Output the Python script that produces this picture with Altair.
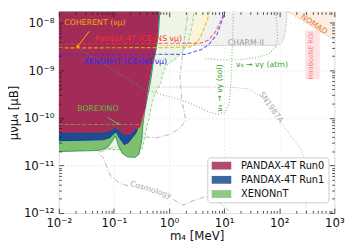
import json
import altair as alt
import pandas as pd

FONT = "DejaVu Sans"

# ---------------- axes ----------------
X_DOMAIN = [1e-2, 1e3]
Y_DOMAIN = [1e-12, 1.70e-8]
x_major = [1e-2, 1e-1, 1e0, 1e1, 1e2, 1e3]
x_tick_labels = ["10⁻²", "10⁻¹", "10⁰", "10¹", "10²", "10³"]
y_major = [1e-12, 1e-11, 1e-10, 1e-9, 1e-8]
y_tick_labels = ["10⁻¹²", "10⁻¹¹", "10⁻¹⁰", "10⁻⁹", "10⁻⁸"]
x_minor = [k * d for d in x_major[:-1] for k in range(2, 10)]
y_minor = [k * d for d in y_major for k in range(2, 10) if k * d < Y_DOMAIN[1]]
REGION_TOP = 1e-7

legend_names = ["PANDAX-4T Run0", "PANDAX-4T Run1", "XENONnT"]
legend_colors = ["#a32b58", "#1b4e8e", "#7fc06c"]

# ---------------- filled limits ----------------
run0_m = [0.01, 0.0628, 0.0871, 0.1067, 0.1257, 0.1542, 0.197, 0.242, 0.296, 0.363, 0.394,
          0.446, 0.483, 0.547, 0.593, 0.618, 0.644]
run0_mu = [5.06e-11, 5.06e-11, 5.56e-11, 6.42e-11, 5.56e-11, 4.60e-11, 4.60e-11, 5.83e-11,
           6.42e-11, 1.65e-10, 3.69e-10, 8.24e-10, 1.39e-9, 2.44e-9, 4.97e-9, 1.0e-8, 2.15e-8]

run1_m = [0.01, 0.0628, 0.0836, 0.1025, 0.111, 0.1257, 0.1542, 0.1816, 0.214, 0.252, 0.284,
          0.368, 0.400, 0.453, 0.490, 0.555, 0.602, 0.627, 0.654]
run1_mu = [3.31e-11, 3.47e-11, 3.81e-11, 4.83e-11, 5.06e-11, 3.81e-11, 2.74e-11, 3.01e-11,
           3.81e-11, 4.83e-11, 7.05e-11, 1.65e-10, 3.69e-10, 8.24e-10, 1.39e-9, 2.44e-9,
           4.97e-9, 1.0e-8, 2.15e-8]

xenon_m = [0.01, 0.0512, 0.0771, 0.0944, 0.1067, 0.1207, 0.142, 0.174, 0.242, 0.284, 0.321,
           0.335, 0.363, 0.410, 0.464, 0.504, 0.547, 0.593, 0.644, 0.670, 0.698]
xenon_mu = [1.97e-11, 2.06e-11, 2.38e-11, 3.31e-11, 4.19e-11, 2.61e-11, 1.79e-11, 1.52e-11,
            1.48e-11, 1.71e-11, 3.47e-11, 7.05e-11, 1.43e-10, 2.91e-10, 5.92e-10, 1.20e-9,
            1.93e-9, 3.10e-9, 6.29e-9, 1.28e-8, 2.15e-8]

# ---------------- other limits ----------------
xepale_m = [0.01, 0.321, 0.394, 0.446, 0.504, 0.593, 0.727, 0.789, 0.968, 1.342, 1.862, 2.28,
            2.58, 2.797, 2.915]
xepale_mu = [2.16e-11, 2.16e-11, 6.12e-11, 1.13e-10, 2.30e-10, 3.69e-10, 5.92e-10, 9.5e-10,
             1.39e-9, 1.75e-9, 2.69e-9, 4.31e-9, 7.96e-9, 1.47e-8, 2.15e-8]

coherent_m = [0.01, 2.28, 3.035, 3.72, 4.39, 5.16, 5.60]
coherent_mu = [2.95e-9, 3.02e-9, 3.57e-9, 4.97e-9, 7.96e-9, 1.34e-8, 2.15e-8]

pandax_cevns_m = [0.01, 3.72, 5.16, 6.87, 8.78, 10.3, 11.2]
pandax_cevns_mu = [3.57e-9, 3.74e-9, 4.31e-9, 6.29e-9, 1.11e-8, 1.78e-8, 2.15e-8]

xenon_cevns_m = [0.01, 2.017, 3.72, 5.16, 7.45, 9.53, 10.76]
xenon_cevns_mu = [2.12e-9, 2.17e-9, 2.69e-9, 3.40e-9, 5.72e-9, 1.28e-8, 2.15e-8]

charm_m = [0.670, 90.0, 110.4, 124.8, 135.3, 138.0]
charm_mu = [3.32e-9, 3.32e-9, 3.74e-9, 4.97e-9, 1.0e-8, 2.15e-8]

nomad_m = [105.9, 1000.0]
nomad_mu = [2.15e-8, 4.31e-9]

miniboone_m = [294.0, 542.0]
miniboone_mu = [6.5e-10, 6.92e-9]

borexino_m = [0.01, 0.349]
borexino_mu = [7.28e-11, 7.28e-11]

sn_m = [0.01, 12.7, 28.7, 43.1, 105.9, 159.0, 249.0, 306.0, 306.0]
sn_mu = [4.45e-10, 4.45e-10, 4.05e-10, 2.91e-10, 8.13e-11, 4.39e-11, 2.16e-11, 1.06e-11, 1.0e-12]
sn_seg = [0, 0, 0, 0, 1, 1, 1, 1, 1]

cosmo_m = [2.28, 1.862, 1.58, 1.714, 2.017, 1.645, 1.094, 0.593, 0.321, 0.142, 0.0512, 0.0628,
           0.0871, 0.131, 0.1816, 1.187, 1.786, 2.28, 4.57, 7.76, 13.7]
cosmo_mu = [2.15e-8, 3.92e-9, 7.50e-10, 2.30e-10, 8.93e-11, 6.42e-11, 4.60e-11, 3.81e-11,
            4.0e-11, 2.74e-11, 1.88e-11, 1.48e-11, 6.03e-12, 4.13e-12, 3.76e-12, 1.94e-12,
            1.46e-12, 1.68e-12, 2.23e-12, 1.76e-12, 1.0e-12]
cosmo_seg = [0] * 15 + [1] * 6

sol_m = [0.0256, 0.0944, 0.349, 0.892, 1.645, 3.035, 4.96, 7.45, 10.3, 12.2, 13.2, 13.7, 14.3, 14.9]
sol_mu = [2.69e-9, 1.04e-9, 4.05e-10, 2.91e-10, 2.41e-10, 1.81e-10, 1.37e-10, 1.19e-10,
          1.30e-10, 1.90e-10, 4.67e-10, 1.52e-9, 4.97e-9, 2.15e-8]

atm_m = [4.57, 8.43, 19.1, 38.2, 64.9, 86.4, 93.7, 90.0, 82.8]
atm_mu = [1.75e-9, 1.67e-9, 1.67e-9, 1.84e-9, 2.22e-9, 3.10e-9, 4.97e-9, 1.0e-8, 2.15e-8]

coh_arrow_m = [0.0355, 0.0217]
coh_arrow_mu = [6.59e-9, 3.10e-9]
bx_arrow_m = [0.0771, 0.1207]
bx_arrow_mu = [1.03e-10, 7.39e-11]

label_texts = ["COHERENT (νμ)", "PandaX-4T (CEνNS  νμ)", "XENONnT (CEνNS νμ)", "BOREXINO",
               "CHARM-II", "ν₄ → νγ (atm)", "ν₄ → νγ (sol)", "SN1987A", "Cosmology",
               "NOMAD", "MiniBooNE ROI"]
label_m = [0.0453, 0.278, 0.1607, 0.0512, 24.9, 48.7, 8.43, 70.4, 0.464, 425.0, 375.0]
label_mu = [9.63e-9, 4.52e-9, 1.52e-9, 1.50e-10, 3.83e-9, 1.29e-9, 4.25e-10, 1.65e-10,
            3.04e-12, 9.18e-9, 2.02e-9]

# ---------------- helpers ----------------
xs = alt.Scale(type="log", domain=X_DOMAIN, nice=False)
ys = alt.Scale(type="log", domain=Y_DOMAIN, nice=False)


def df(m, mu, **extra):
    d = pd.DataFrame({"m": m, "mu": mu})
    d["i"] = range(len(d))
    for k, v in extra.items():
        d[k] = v
    return d


def ex():
    return alt.X("m:Q", scale=xs, axis=None)


def ey():
    return alt.Y("mu:Q", scale=ys, axis=None, stack=None)


def area(d, fill, opacity=1.0):
    return alt.Chart(d).mark_area(fill=fill, opacity=opacity, clip=True).encode(
        x=ex(), y=ey(), y2=alt.datum(REGION_TOP))


def line(d, color, dash=None, width=1.0, opacity=1.0, ordered=False, detail=False):
    kw = dict(color=color, strokeWidth=width, opacity=opacity, clip=True)
    if dash:
        kw["strokeDash"] = dash
    enc = dict(x=ex(), y=ey())
    if ordered:
        enc["order"] = alt.Order("i:Q")
    if detail:
        enc["detail"] = alt.Detail("seg:N")
    return alt.Chart(d).mark_line(**kw).encode(**enc)


legend = alt.Legend(
    orient="none", legendX=152, legendY=149, title=None,
    symbolType="M-1,-1H4V1H-1Z", symbolSize=64, symbolStrokeWidth=0, symbolOpacity=0.85,
    labelFont=FONT, labelFontSize=10, labelColor="#111", labelOffset=21,
    rowPadding=4.5, padding=3.5, fillColor="rgba(255,255,255,0.85)",
    strokeColor="#cccccc", cornerRadius=3,
)
color_scale = alt.Scale(domain=legend_names, range=legend_colors)


def fill_region(m, mu, name):
    d = df(m, mu, series=name)
    return alt.Chart(d).mark_area(opacity=1.0, clip=True).encode(
        x=ex(), y=ey(), y2=alt.datum(REGION_TOP),
        color=alt.Color("series:N", scale=color_scale, legend=legend))


def label(idx, color, angle=0, size=8):
    d = pd.DataFrame({"m": [label_m[idx]], "mu": [label_mu[idx]], "t": [label_texts[idx]]})
    return alt.Chart(d).mark_text(color=color, angle=angle, fontSize=size, font=FONT,
                                  align="center", baseline="middle", clip=True).encode(
        x=ex(), y=ey(), text="t:N")


def head(m, mu, color, angle):
    d = pd.DataFrame({"m": [m], "mu": [mu]})
    return alt.Chart(d).mark_point(shape="triangle-up", filled=True, size=14, color=color,
                                   angle=angle, opacity=1).encode(x=ex(), y=ey())


def axis_layer(xaxis, yaxis):
    d = pd.DataFrame({"m": [1.0], "mu": [1e-10]})
    return alt.Chart(d).mark_point(opacity=0).encode(
        x=alt.X("m:Q", scale=xs, axis=xaxis), y=alt.Y("mu:Q", scale=ys, axis=yaxis))


def tick_axis(orient, values, size):
    return alt.Axis(orient=orient, offset=-size, values=values, tickSize=size, labels=False,
                    domain=False, grid=False, title=None, tickColor="#222", tickWidth=0.8,
                    zindex=2)


main_x = alt.Axis(
    orient="bottom", values=x_major,
    labelExpr=f"{json.dumps(x_tick_labels, ensure_ascii=False)}[round(log(datum.value)/LN10) + 2]",
    ticks=False, tickSize=0, domain=False, grid=True, gridColor="#e2e2e2", gridWidth=0.7,
    gridDash=[2, 2], labelFont=FONT, labelFontSize=12, labelColor="#111", labelPadding=5,
    labelFlush=False, labelOverlap=False, title="m₄ [MeV]", titleFont=FONT, titleFontSize=12,
    titleFontWeight="normal", titleColor="#111", titlePadding=2)
main_y = alt.Axis(
    orient="left", values=y_major,
    labelExpr=f"{json.dumps(y_tick_labels, ensure_ascii=False)}[round(log(datum.value)/LN10) + 12]",
    ticks=False, tickSize=0, domain=False, grid=True, gridColor="#e2e2e2", gridWidth=0.7,
    gridDash=[2, 2], labelFont=FONT, labelFontSize=12, labelColor="#111", labelPadding=5,
    labelFlush=False, labelOverlap=False, title="μνμ₄ [μB]", titleFont=FONT, titleFontSize=12,
    titleFontWeight="normal", titleColor="#111", titlePadding=3)

layers = [
    axis_layer(main_x, main_y),
    # light background limits
    area(df(charm_m, charm_mu), "#f1f1f1"),
    area(df(nomad_m, nomad_mu), "#fdeee2"),
    alt.Chart(pd.DataFrame({"m": [miniboone_m[0]], "m2": [miniboone_m[1]],
                            "mu": [miniboone_mu[0]], "mu2": [miniboone_mu[1]]}))
    .mark_rect(fill="#fde3e3", clip=True)
    .encode(x=ex(), x2="m2:Q", y=ey(), y2="mu2:Q"),
    area(df(coherent_m, coherent_mu), "#f8f5dc"),
    area(df(xepale_m, xepale_mu), "#edf6e6"),
    line(df(xepale_m, xepale_mu), "#8fd48a", dash=[3, 2], width=1.0),
    line(df(charm_m, charm_mu), "#a8a8a8", dash=[1, 1.5], width=1.0),
    line(df(nomad_m, nomad_mu), "#f0a060", dash=[1, 1.5], width=1.0),
    line(df(cosmo_m, cosmo_mu, seg=cosmo_seg), "#b4b4b4", dash=[5, 2, 1, 2], width=1.0,
         ordered=True, detail=True),
    line(df(sn_m, sn_mu, seg=sn_seg), "#b8b8b8", dash=[1, 1.5], width=1.0,
         ordered=True, detail=True),
    # main exclusion regions
    fill_region(xenon_m, xenon_mu, legend_names[2]),
    line(df(xenon_m, xenon_mu), "#2f9a6a", width=1.0),
    fill_region(run1_m, run1_mu, legend_names[1]),
    line(df(run1_m, run1_mu), "#1a35c0", width=1.0),
    fill_region(run0_m, run0_mu, legend_names[0]),
    line(df(run0_m, run0_mu), "#e2203c", width=1.0),
    # other curves
    line(df(borexino_m, borexino_mu), "#7fb03f", dash=[4, 2], width=1.1, opacity=0.7),
    line(df(coherent_m, coherent_mu), "#f4b400", dash=[4, 2], width=1.2, opacity=0.85),
    line(df(pandax_cevns_m, pandax_cevns_mu), "#ff3030", dash=[4, 2], width=1.2, opacity=0.7),
    line(df(xenon_cevns_m, xenon_cevns_mu), "#3030ff", dash=[4, 2], width=1.2, opacity=0.7),
    line(df(sol_m, sol_mu), "#4cb04c", dash=[1, 2], width=1.2, opacity=0.75, ordered=True),
    line(df(atm_m, atm_mu), "#4cb04c", dash=[1, 2], width=1.2, opacity=0.75, ordered=True),
    line(df(coh_arrow_m, coh_arrow_mu), "#f4b400", width=1.0, ordered=True),
    head(coh_arrow_m[1], coh_arrow_mu[1], "#f4b400", 217),
    line(df(bx_arrow_m, bx_arrow_mu), "#5cbf3c", width=1.0, ordered=True),
    head(bx_arrow_m[1], bx_arrow_mu[1], "#5cbf3c", 122),
    # labels
    label(0, "#f0b000"),
    label(1, "#ff2a2a"),
    label(2, "#2a2aff"),
    label(3, "#5cbf3c"),
    label(4, "#9a9a9a"),
    label(5, "#33a033"),
    label(6, "#33a033", angle=270),
    label(7, "#aaaaaa", angle=55),
    label(8, "#aaaaaa", angle=17),
    label(9, "#e8742a", angle=34),
    label(10, "#f08a8a", angle=270, size=6.5),
    # inward ticks on all four sides
    axis_layer(tick_axis("bottom", x_major, 5), tick_axis("left", y_major, 5)),
    axis_layer(tick_axis("bottom", x_minor, 2.7), tick_axis("left", y_minor, 2.7)),
    axis_layer(tick_axis("top", x_major, 5), tick_axis("right", y_major, 5)),
    axis_layer(tick_axis("top", x_minor, 2.7), tick_axis("right", y_minor, 2.7)),
]

chart = (
    alt.layer(*layers)
    .resolve_axis(x="independent", y="independent")
    .properties(width=282, height=206,
                autosize=alt.AutoSizeParams(type="none"),
                padding={"left": 52, "top": 1, "right": 15, "bottom": 37})
    .configure_view(stroke="#222", strokeWidth=1)
    .configure(background="white")
)

chart.save("out.html", embed_options={"renderer": "svg", "actions": False})
